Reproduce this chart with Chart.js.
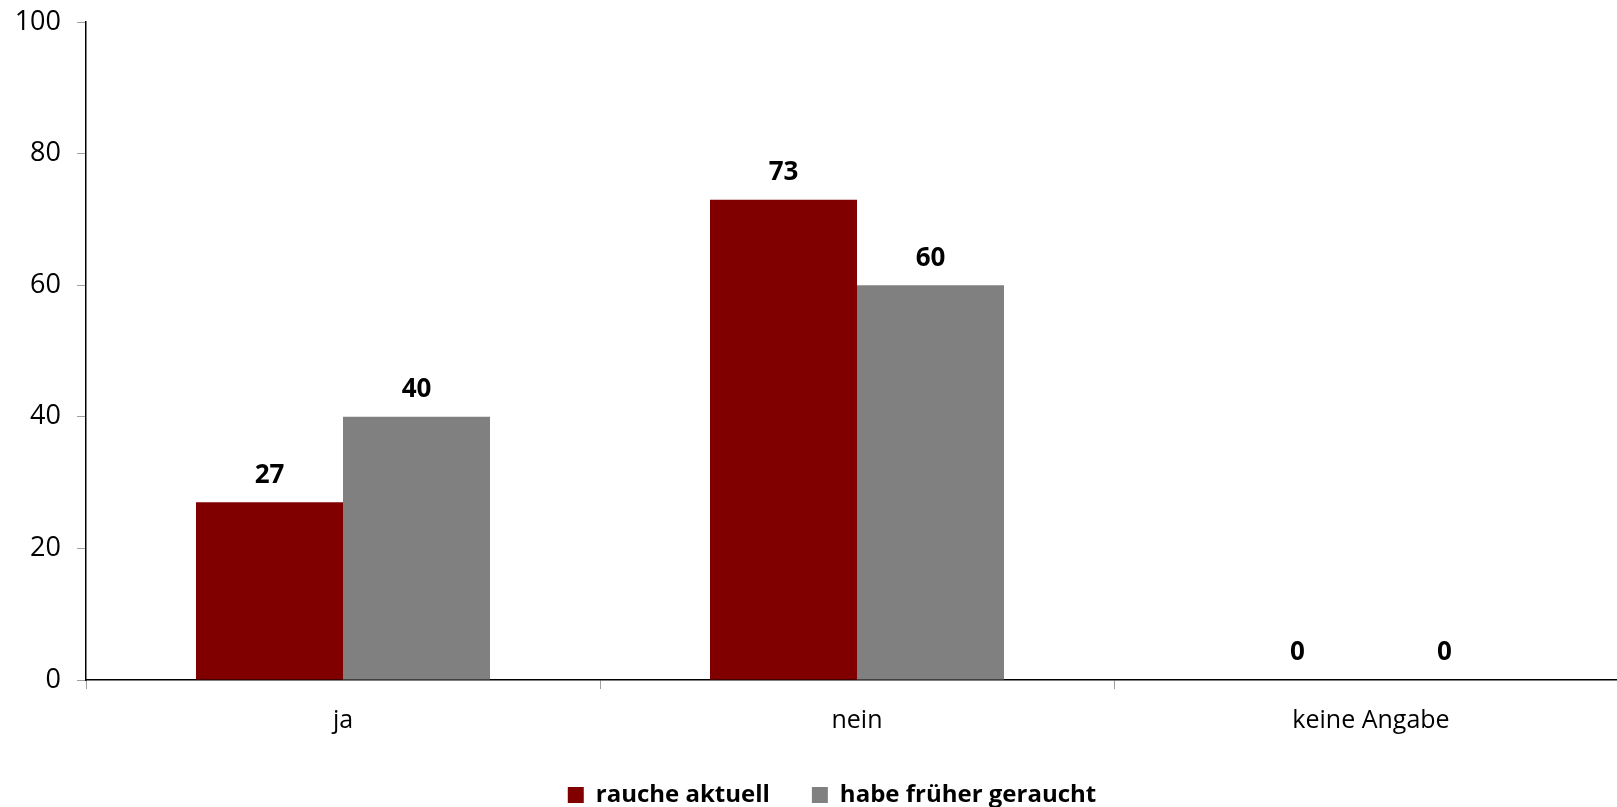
<!DOCTYPE html>
<html>
<head>
<meta charset="utf-8">
<script src="https://cdn.jsdelivr.net/npm/chart.js@4/dist/chart.umd.min.js"></script>
<style>
  html, body { margin: 0; padding: 0; background: #fff; overflow: hidden; }
  #wrap { width: 1628px; height: 807px; position: relative; }
</style>
</head>
<body>
<div id="wrap"><canvas id="chart"></canvas></div>
<script>
// DATA -----------------------------------------------------------------------
const categories = ['ja', 'nein', 'keine Angabe'];
const raucheAktuell = [27, 73, 0];
const frueherGeraucht = [40, 60, 0];
const seriesNames = ['rauche aktuell', 'habe früher geraucht'];
const yTicks = [0, 20, 40, 60, 80, 100];

// SETTINGS -------------------------------------------------------------------
const colors = { rot: '#800000', grau: '#808080' };
const fontFamily = '"Open Sans", "Liberation Sans", sans-serif';

// value labels over each bar
const valueLabels = {
    id: 'valueLabels',
    afterDatasetsDraw(chart) {
        const ctx = chart.ctx;
        ctx.save();
        ctx.font = `bold 26px ${fontFamily}`;
        ctx.fillStyle = '#000';
        ctx.textAlign = 'center';
        ctx.textBaseline = 'middle';
        chart.data.datasets.forEach((ds, i) => {
            chart.getDatasetMeta(i).data.forEach((bar, j) => {
                ctx.fillText(String(ds.data[j]), bar.x, bar.y - 27);
            });
        });
        ctx.restore();
    }
};

// legend sits a bit right of the canvas centre
const legendShift = {
    id: 'legendShift',
    afterLayout(chart) {
        chart.legend.left += 18;
        chart.legend.right += 18;
    }
};

new Chart(document.getElementById('chart'), {
    type: 'bar',
    data: {
        labels: categories,
        datasets: [
            { label: seriesNames[0], data: raucheAktuell, backgroundColor: colors.rot },
            { label: seriesNames[1], data: frueherGeraucht, backgroundColor: colors.grau }
        ]
    },
    options: {
        responsive: true,
        maintainAspectRatio: false,
        animation: false,
        categoryPercentage: 0.572,
        barPercentage: 1.0,
        layout: { autoPadding: false, padding: { top: 22, left: 0, right: 0, bottom: -10 } },
        plugins: {
            tooltip: { enabled: false },
            legend: {
                position: 'bottom',
                labels: {
                    color: '#000',
                    boxWidth: 16,
                    boxHeight: 16,
                    padding: 42,
                    font: { family: fontFamily, size: 24, weight: 'bold' }
                }
            }
        },
        scales: {
            x: {
                grid: { drawOnChartArea: false, tickLength: 9, color: '#a0a0a0', offset: true },
                border: { color: '#000', width: 1.5 },
                ticks: { color: '#000', padding: 17, font: { family: fontFamily, size: 25 } },
                afterFit(scale) { scale.height = 61; }
            },
            y: {
                min: 0,
                max: 100,
                afterBuildTicks(scale) { scale.ticks = yTicks.map(v => ({ value: v })); },
                grid: { drawOnChartArea: false, tickLength: 9, color: '#a0a0a0' },
                border: { color: '#000', width: 1.5 },
                ticks: { color: '#000', padding: 16, font: { family: fontFamily, size: 27 } },
                afterFit(scale) {
                    scale.width = 86;
                    scale.paddingTop = 0;
                    scale.paddingBottom = 0;
                }
            }
        }
    },
    plugins: [valueLabels, legendShift]
});
</script>
</body>
</html>
